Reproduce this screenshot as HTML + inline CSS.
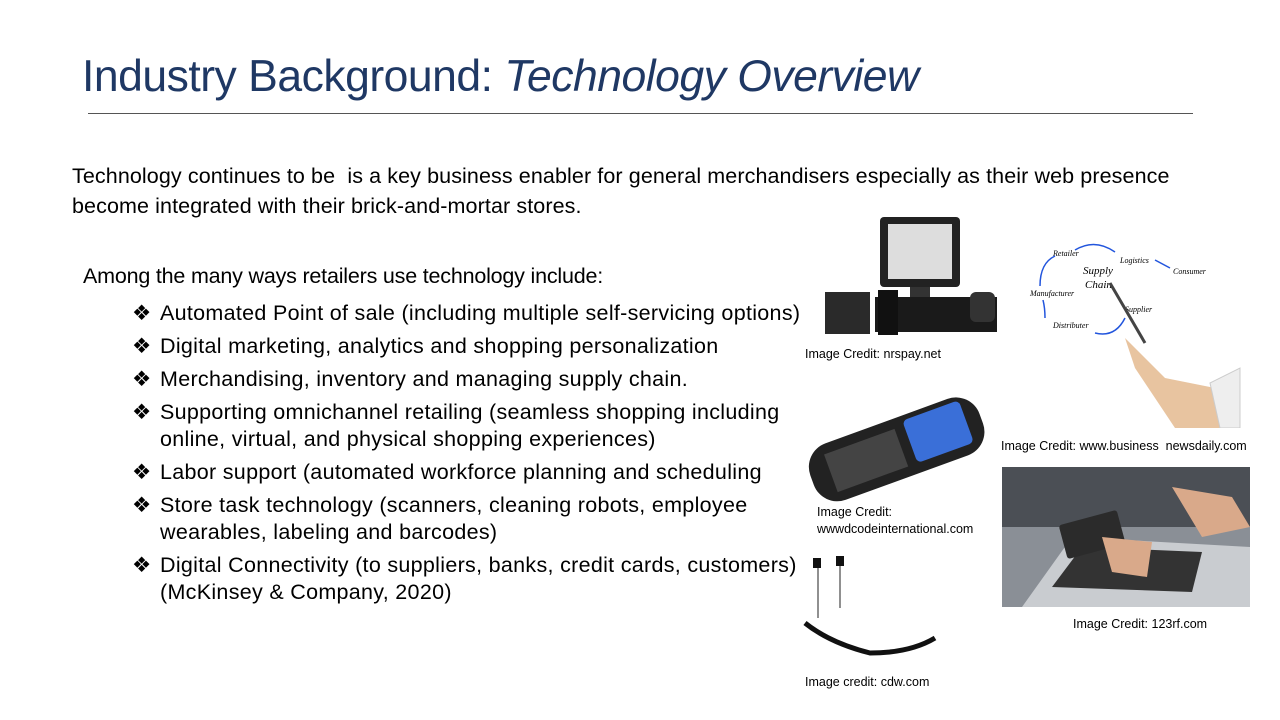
<!DOCTYPE html>
<html><head><meta charset="utf-8"><style>
body{margin:0;width:1280px;height:720px;background:#fff;position:relative;overflow:hidden;font-family:"Liberation Sans",sans-serif;color:#000}
.a{position:absolute;white-space:nowrap}
.t{font-size:21.5px;letter-spacing:-0.2px}
.cap{font-size:12.5px}
.b{position:relative;padding-left:28px}
.b:before{content:"❖";position:absolute;left:0;top:0;letter-spacing:0}
</style></head><body>
<div class="a" style="left:82px;top:52px;font-size:44.5px;color:#1f3864;letter-spacing:-0.5px">Industry Background: <i>Technology Overview</i></div>
<div class="a" style="left:88px;top:113px;width:1105px;height:1px;background:#555"></div>
<div class="a t" style="left:72px;top:161px;line-height:30px;letter-spacing:0.1px">Technology continues to be&nbsp; is a key business enabler for general merchandisers especially as their web presence<br>become integrated with their brick-and-mortar stores.</div>
<div class="a t" style="left:83px;top:264px">Among the many ways retailers use technology include:</div>
<div class="a t" style="left:132px;top:300px;line-height:27px;letter-spacing:0.3px">
<div class="b" style="height:33px">Automated Point of sale (including multiple self-servicing options)</div>
<div class="b" style="height:33px">Digital marketing, analytics and shopping personalization</div>
<div class="b" style="height:33px">Merchandising, inventory and managing supply chain.</div>
<div class="b" style="height:60px">Supporting omnichannel retailing (seamless shopping including<br>online, virtual, and physical shopping experiences)</div>
<div class="b" style="height:33px">Labor support (automated workforce planning and scheduling</div>
<div class="b" style="height:60px">Store task technology (scanners, cleaning robots, employee<br>wearables, labeling and barcodes)</div>
<div class="b">Digital Connectivity (to suppliers, banks, credit cards, customers)<br>(McKinsey &amp; Company, 2020)</div>
</div>
<svg class="a" style="left:820px;top:212px" width="182" height="128">
<rect x="60" y="5" width="80" height="70" rx="4" fill="#222"/><rect x="68" y="12" width="64" height="55" fill="#ddd"/>
<rect x="90" y="75" width="20" height="15" fill="#333"/><rect x="55" y="85" width="122" height="35" fill="#1a1a1a"/>
<rect x="5" y="80" width="45" height="42" fill="#2a2a2a"/><rect x="58" y="78" width="20" height="45" fill="#111"/>
<rect x="150" y="80" width="25" height="30" rx="6" fill="#333"/></svg>
<div class="a cap" style="left:805px;top:347px">Image Credit: nrspay.net</div>
<svg class="a" style="left:1015px;top:238px" width="230" height="190">
<g font-family="Liberation Serif" font-style="italic" font-size="8"><text x="38" y="18">Retailer</text><text x="105" y="25">Logistics</text><text x="158" y="36">Consumer</text><text x="15" y="58">Manufacturer</text><text x="110" y="74">Supplier</text><text x="38" y="90">Distributer</text><text x="68" y="36" font-size="11">Supply</text><text x="70" y="50" font-size="11">Chain</text></g>
<g stroke="#2255dd" fill="none" stroke-width="1.5"><path d="M60 12 Q80 0 100 14"/><path d="M140 22 L155 30"/><path d="M25 48 Q25 25 40 18"/><path d="M30 80 Q30 70 28 62"/><path d="M80 95 Q100 100 110 80"/></g>
<path d="M110 100 L150 140 L200 150 L225 165 L225 190 L160 190 L120 130 Z" fill="#e8c4a0"/><path d="M195 145 L225 130 L225 190 L205 190 Z" fill="#eee" stroke="#ccc"/><line x1="95" y1="45" x2="130" y2="105" stroke="#444" stroke-width="3"/></svg>
<div class="a cap" style="left:1001px;top:439px">Image Credit: www.business&nbsp; newsdaily.com</div>
<svg class="a" style="left:800px;top:385px" width="188" height="120">
<g transform="rotate(-20 94 60)"><rect x="5" y="35" width="180" height="60" rx="25" fill="#222"/><rect x="110" y="40" width="60" height="45" rx="5" fill="#3a6fd8"/><rect x="25" y="45" width="75" height="40" fill="#444"/></g></svg>
<div class="a cap" style="left:817px;top:504px;line-height:17px">Image Credit:<br>wwwdcodeinternational.com</div>
<svg class="a" style="left:1002px;top:467px" width="248" height="140">
<rect width="248" height="140" fill="#8a8f96"/><rect x="0" y="0" width="248" height="60" fill="#4b4f55"/><polygon points="20,140 70,70 248,80 248,140" fill="#c9ccd0"/><polygon points="50,120 80,80 200,85 190,125" fill="#333"/>
<rect x="60" y="50" width="60" height="35" rx="3" fill="#2b2b2b" transform="rotate(-15 90 67)"/><path d="M170 20 L230 30 L248 60 L200 70 Z" fill="#d9a98a"/><path d="M100 70 L150 75 L145 110 L110 105 Z" fill="#d9a98a"/></svg>
<div class="a cap" style="left:1073px;top:617px">Image Credit: 123rf.com</div>
<svg class="a" style="left:800px;top:553px" width="140" height="112">
<path d="M5 70 Q30 90 70 100 Q110 100 135 85" stroke="#111" stroke-width="5" fill="none"/><line x1="18" y1="10" x2="18" y2="65" stroke="#222"/><line x1="40" y1="10" x2="40" y2="55" stroke="#222"/><rect x="13" y="5" width="8" height="10" fill="#111"/><rect x="36" y="3" width="8" height="10" fill="#111"/></svg>
<div class="a cap" style="left:805px;top:675px">Image credit: cdw.com</div>
</body></html>
